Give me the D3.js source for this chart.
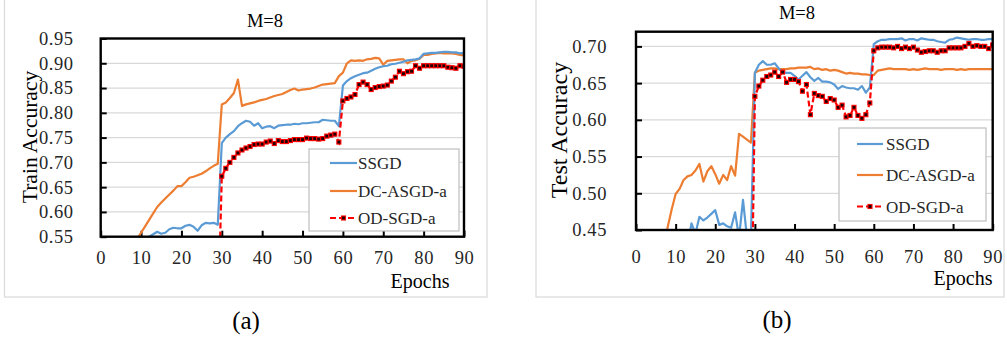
<!DOCTYPE html>
<html><head><meta charset="utf-8">
<script src="https://cdn.jsdelivr.net/npm/d3@7"></script>
<style>html,body{margin:0;padding:0;background:#fff;}svg{display:block;}</style>
</head><body><svg id="c" width="1007" height="341"></svg>
<script>
// ---------- data ----------
const seriesNames = ["SSGD", "DC-ASGD-a", "OD-SGD-a"];
const xTicks = [0, 10, 20, 30, 40, 50, 60, 70, 80, 90];
const trainYTicks = [0.55, 0.60, 0.65, 0.70, 0.75, 0.80, 0.85, 0.90, 0.95];
const testYTicks = [0.45, 0.50, 0.55, 0.60, 0.65, 0.70];

// Train accuracy (chart a); each series starts at the given epoch, one value per epoch
const trainSSGDStart = 11;
const trainSSGD = [0.545,0.550,0.555,0.560,0.556,0.558,0.565,0.568,0.567,0.567,
  0.572,0.574,0.570,0.562,0.573,0.578,0.577,0.578,0.574,
  0.739,0.750,0.757,0.763,0.773,0.779,0.784,0.782,0.774,0.779,
  0.769,0.772,0.773,0.769,0.774,0.775,0.776,0.776,0.778,0.777,
  0.779,0.779,0.780,0.781,0.781,0.786,0.785,0.784,0.784,0.773,
  0.855,0.864,0.870,0.874,0.877,0.880,0.881,0.885,0.889,0.892,
  0.894,0.895,0.898,0.899,0.901,0.903,0.906,0.907,0.908,0.910,
  0.919,0.920,0.921,0.921,0.922,0.923,0.923,0.922,0.922,0.920,0.921];
const trainDCStart = 8;
const trainDC = [0.532,0.545,0.558,0.571,0.584,0.597,0.610,0.619,0.627,0.635,0.643,0.652,
  0.652,0.660,0.669,0.671,0.674,0.677,0.682,0.688,0.693,0.697,
  0.817,0.821,0.830,0.840,0.867,0.814,0.817,0.819,0.821,0.824,
  0.826,0.828,0.831,0.834,0.836,0.838,0.842,0.846,0.849,0.845,
  0.847,0.848,0.849,0.851,0.854,0.857,0.858,0.859,0.860,0.874,
  0.881,0.900,0.906,0.905,0.906,0.905,0.908,0.909,0.911,0.910,
  0.897,0.905,0.906,0.907,0.908,0.908,0.900,0.905,0.906,0.909,
  0.917,0.917,0.919,0.920,0.921,0.920,0.920,0.920,0.919,0.917,0.916];
const trainODStart = 29;
const trainOD = [0.367,
  0.672,0.688,0.700,0.710,0.719,0.725,0.729,0.732,0.736,0.737,
  0.737,0.741,0.743,0.738,0.744,0.742,0.742,0.744,0.746,0.746,
  0.746,0.749,0.748,0.748,0.747,0.748,0.753,0.755,0.757,0.741,
  0.824,0.829,0.832,0.837,0.857,0.862,0.857,0.847,0.851,0.853,
  0.854,0.856,0.864,0.872,0.884,0.879,0.883,0.884,0.895,0.890,
  0.895,0.895,0.895,0.895,0.895,0.895,0.892,0.891,0.890,0.895,0.894];

// Test accuracy (chart b)
const testSSGDStart = 13;
const testSSGD = [0.430,0.459,0.445,0.468,0.463,0.467,0.472,0.477,0.457,0.459,
  0.455,0.453,0.474,0.440,0.491,0.440,0.440,
  0.664,0.675,0.680,0.675,0.675,0.677,0.670,0.665,0.664,0.664,
  0.660,0.655,0.660,0.665,0.658,0.653,0.657,0.652,0.652,0.651,
  0.648,0.642,0.646,0.644,0.643,0.643,0.641,0.646,0.637,0.644,
  0.703,0.707,0.709,0.709,0.710,0.710,0.710,0.711,0.708,0.710,
  0.710,0.708,0.711,0.710,0.709,0.709,0.707,0.706,0.705,0.709,
  0.710,0.712,0.711,0.710,0.709,0.710,0.710,0.709,0.709,0.710,0.710];
const testDCStart = 7;
const testDC = [0.430,0.454,0.478,0.499,0.506,0.518,0.523,0.525,0.531,0.540,0.516,0.530,0.537,
  0.526,0.513,0.525,0.518,0.537,0.524,0.581,0.577,0.573,0.569,
  0.664,0.667,0.668,0.669,0.670,0.670,0.669,0.669,0.669,0.670,
  0.670,0.671,0.671,0.671,0.672,0.669,0.670,0.668,0.669,0.667,
  0.668,0.667,0.665,0.663,0.664,0.663,0.663,0.662,0.662,0.661,
  0.661,0.667,0.668,0.669,0.670,0.669,0.669,0.669,0.669,0.668,
  0.669,0.668,0.669,0.670,0.669,0.669,0.669,0.668,0.669,0.669,
  0.669,0.668,0.669,0.668,0.669,0.669,0.669,0.669,0.669,0.669,0.669];
const testODStart = 29;
const testOD = [0.270,
  0.632,0.646,0.654,0.659,0.661,0.665,0.659,0.665,0.651,0.655,
  0.655,0.652,0.639,0.648,0.607,0.636,0.633,0.632,0.625,0.629,
  0.627,0.617,0.620,0.604,0.606,0.617,0.606,0.602,0.607,0.623,
  0.694,0.698,0.699,0.699,0.699,0.698,0.700,0.697,0.699,0.697,
  0.699,0.695,0.692,0.693,0.694,0.694,0.692,0.694,0.694,0.698,
  0.698,0.698,0.698,0.700,0.704,0.700,0.701,0.700,0.700,0.697,0.702];

// ---------- drawing ----------
const svg = d3.select("#c");
const COLORS = {SSGD: "#5B9BD5", DC: "#ED7D31", OD: "#FF0000"};
const FONT = "'Liberation Serif','Times New Roman',serif";

function toPoints(start, vals) { return vals.map((v, i) => ({e: start + i, v})); }

function drawChart(cfg) {
  const g = svg.append("g");
  g.append("rect").attr("x", cfg.panel[0]).attr("y", cfg.panel[1])
    .attr("width", cfg.panel[2]).attr("height", cfg.panel[3])
    .attr("fill", "none").attr("stroke", "#d9d9d9").attr("stroke-width", 1.2);

  const x = d3.scaleLinear().domain([0, 90]).range([cfg.x0, cfg.x1]);
  const y = d3.scaleLinear().domain(cfg.yDomain).range([cfg.y1, cfg.y0]);

  g.append("g").selectAll("line").data(cfg.yTicks).join("line")
    .attr("x1", cfg.x0).attr("x2", cfg.x1)
    .attr("y1", d => y(d)).attr("y2", d => y(d))
    .attr("stroke", "#d9d9d9").attr("stroke-width", 1.3);

  const yAxis = g.append("g").attr("transform", `translate(${cfg.x0},0)`)
    .call(d3.axisLeft(y).tickValues(cfg.yTicks).tickFormat(d3.format(".2f")).tickSizeInner(-6).tickSizeOuter(0).tickPadding(cfg.yPad));
  const xAxis = g.append("g").attr("transform", `translate(0,${cfg.y1})`)
    .call(d3.axisBottom(x).tickValues(xTicks).tickFormat(d3.format("d")).tickSizeInner(-6).tickSizeOuter(0).tickPadding(cfg.xPad));
  [yAxis, xAxis].forEach(a => {
    a.select(".domain").remove();
    a.selectAll(".tick line").attr("stroke", "#000").attr("stroke-width", 2);
    a.selectAll(".tick text").attr("font-family", FONT).attr("font-size", 18.5).attr("fill", "#262626")
      .attr("letter-spacing", 0.6);
  });

  const cid = "clip" + cfg.id;
  svg.append("clipPath").attr("id", cid).append("rect")
    .attr("x", cfg.x0).attr("y", cfg.y0).attr("width", cfg.x1 - cfg.x0).attr("height", cfg.y1 - cfg.y0);
  const plot = g.append("g").attr("clip-path", `url(#${cid})`);
  const line = d3.line().x(d => x(d.e)).y(d => y(d.v));

  plot.append("path").datum(toPoints(cfg.dcStart, cfg.dc)).attr("d", line)
    .attr("fill", "none").attr("stroke", COLORS.DC).attr("stroke-width", 2.2).attr("stroke-linejoin", "round");
  plot.append("path").datum(toPoints(cfg.ssgdStart, cfg.ssgd)).attr("d", line)
    .attr("fill", "none").attr("stroke", COLORS.SSGD).attr("stroke-width", 2.2).attr("stroke-linejoin", "round");
  const od = toPoints(cfg.odStart, cfg.od);
  plot.append("path").datum(od).attr("d", line)
    .attr("fill", "none").attr("stroke", COLORS.OD).attr("stroke-width", 2.2).attr("stroke-dasharray", "6,3");
  plot.selectAll("rect.mk").data(od).join("rect").attr("class", "mk")
    .attr("x", d => x(d.e) - 2).attr("y", d => y(d.v) - 2).attr("width", 4).attr("height", 4)
    .attr("fill", "#200000").attr("stroke", COLORS.OD).attr("stroke-width", 1.1);

  g.append("rect").attr("x", cfg.x0).attr("y", cfg.y0).attr("width", cfg.x1 - cfg.x0).attr("height", cfg.y1 - cfg.y0)
    .attr("fill", "none").attr("stroke", "#000").attr("stroke-width", 2.4);

  const L = cfg.legend;
  g.append("rect").attr("x", L.x).attr("y", L.y).attr("width", L.w).attr("height", L.h)
    .attr("fill", "#fff").attr("stroke", "#bfbfbf").attr("stroke-width", 1.2);
  const styles = [{c: COLORS.SSGD, dash: null, mk: false}, {c: COLORS.DC, dash: null, mk: false}, {c: COLORS.OD, dash: "6,3", mk: true}];
  seriesNames.forEach((name, i) => {
    const yy = L.rows[i];
    g.append("line").attr("x1", L.lx0).attr("x2", L.lx1).attr("y1", yy).attr("y2", yy)
      .attr("stroke", styles[i].c).attr("stroke-width", 2.2).attr("stroke-dasharray", styles[i].dash);
    if (styles[i].mk) {
      const mx = (L.lx0 + L.lx1) / 2;
      g.append("rect").attr("x", mx - 2).attr("y", yy - 2).attr("width", 4).attr("height", 4)
        .attr("fill", "#200000").attr("stroke", COLORS.OD).attr("stroke-width", 1.1);
    }
    g.append("text").attr("x", L.tx).attr("y", yy + 6).text(name)
      .attr("font-family", FONT).attr("font-size", 17).attr("fill", "#262626");
  });

  g.append("text").attr("x", cfg.title[0]).attr("y", cfg.title[1]).attr("text-anchor", "middle")
    .attr("font-family", FONT).attr("font-size", 18.5).attr("fill", "#000").text("M=8");
  g.append("text").attr("transform", `translate(${cfg.ylab[0]},${cfg.ylab[1]}) rotate(-90)`)
    .attr("text-anchor", "middle").attr("dy", "0.35em")
    .attr("font-family", FONT).attr("font-size", cfg.ylabSize).attr("fill", "#000").text(cfg.ylabText);
  g.append("text").attr("x", cfg.xlab[0]).attr("y", cfg.xlab[1]).attr("text-anchor", "middle")
    .attr("font-family", FONT).attr("font-size", 20).attr("fill", "#000").text("Epochs");
  g.append("text").attr("x", cfg.sub[0]).attr("y", cfg.sub[1]).attr("text-anchor", "middle")
    .attr("font-family", FONT).attr("font-size", 25).attr("fill", "#000").text(cfg.subText);
}

drawChart({
  id: "a", panel: [4.5, -2, 482.5, 299], x0: 100.7, x1: 464, y0: 38.5, y1: 236.7,
  yDomain: [0.55, 0.95], yTicks: trainYTicks, xPad: 14, yPad: 27,
  ssgd: trainSSGD, ssgdStart: trainSSGDStart, dc: trainDC, dcStart: trainDCStart, od: trainOD, odStart: trainODStart,
  legend: {x: 309, y: 149, w: 150, h: 82, rows: [163, 191, 218], lx0: 330, lx1: 357, tx: 358},
  title: [265, 27], ylab: [29, 137], ylabSize: 21.5, ylabText: "Train Accuracy",
  xlab: [420, 288], sub: [246, 329], subText: "(a)"
});
drawChart({
  id: "b", panel: [536, -2, 468, 299], x0: 636, x1: 992.7, y0: 31.7, y1: 230,
  yDomain: [0.45, 0.72], yTicks: testYTicks, xPad: 20, yPad: 29,
  ssgd: testSSGD, ssgdStart: testSSGDStart, dc: testDC, dcStart: testDCStart, od: testOD, odStart: testODStart,
  legend: {x: 839, y: 128, w: 147, h: 93, rows: [144, 175, 206.5], lx0: 857, lx1: 883, tx: 886},
  title: [797, 19], ylab: [559, 130], ylabSize: 24, ylabText: "Test Accuracy",
  xlab: [963, 285], sub: [777, 328], subText: "(b)"
});
</script></body></html>
